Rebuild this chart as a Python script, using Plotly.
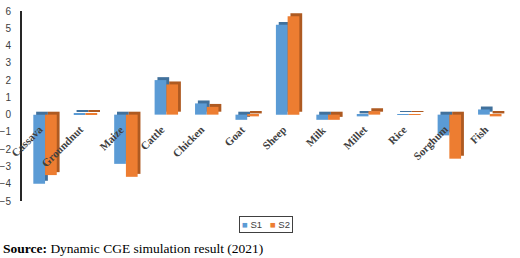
import plotly.graph_objects as go

categories = ["Cassava", "Groundnut", "Maize", "Cattle", "Chicken", "Goat",
              "Sheep", "Milk", "Millet", "Rice", "Sorghum", "Fish"]
s1 = [-4.0, 0.06, -2.85, 2.0, 0.65, -0.3, 5.2, -0.3, -0.1, 0.02, -1.2, 0.3]
s2 = [-3.5, 0.06, -3.6, 1.75, 0.45, -0.1, 5.7, -0.3, 0.2, 0.02, -2.55, -0.1]
y_ticks = [6, 5, 4, 3, 2, 1, 0, -1, -2, -3, -4, -5]
series_names = ["S1", "S2"]

blue, orange = "#5B9BD5", "#ED7D31"
blue_dark, orange_dark = "#41719C", "#AE5A21"
W = 0.29
DX = 0.07      # 3D depth along category axis
DY = 0.17      # 3D depth along value axis

x_idx = list(range(len(categories)))

fig = go.Figure()
# 3D "depth" boxes (darker, shifted up-right)
for vals, off, col in [(s1, -W, blue_dark), (s2, 0.0, orange_dark)]:
    fig.add_trace(go.Bar(
        x=x_idx, y=vals, base=[DY] * len(vals), offset=off + DX, width=W,
        marker=dict(color=col, line=dict(width=0)), showlegend=False,
        hoverinfo="skip"))
for vals, off, col, name in [(s1, -W, blue, series_names[0]), (s2, 0.0, orange, series_names[1])]:
    fig.add_trace(go.Bar(
        x=x_idx, y=vals, offset=off, width=W, name=name, showlegend=False,
        marker=dict(color=col, line=dict(width=0))))

# category labels placed at the zero line
for i, c in enumerate(categories):
    fig.add_annotation(
        x=i, y=0, text="<b>" + c + "</b>", showarrow=False, textangle=-45,
        xanchor="right", yanchor="top", xshift=3, yshift=-6,
        font=dict(family="Liberation Serif", size=11, color="#404040"))

# compact legend
fig.add_annotation(
    xref="paper", yref="paper", x=0.5, y=-0.125, xanchor="center", yanchor="middle",
    text=(f'<span style="color:{blue}">■</span> {series_names[0]}   '
          f'<span style="color:{orange}">■</span> {series_names[1]}'),
    showarrow=False, bordercolor="#404040", borderwidth=1, borderpad=2,
    font=dict(family="Liberation Sans", size=9.5, color="#404040"))

fig.add_annotation(
    xref="paper", yref="paper", x=-0.043, y=-0.25, xanchor="left", yanchor="middle",
    text="<b>Source:</b> Dynamic CGE simulation result (2021)", showarrow=False,
    font=dict(family="Liberation Serif", size=13.5, color="black"))

fig.update_layout(
    width=520, height=258,
    margin=dict(l=22, r=10, t=11, b=57, autoexpand=False),
    paper_bgcolor="white", plot_bgcolor="white",
    barmode="overlay",
    showlegend=False,
    xaxis=dict(range=[-0.57, 11.5], showticklabels=False, showgrid=False,
               zeroline=False, showline=False, fixedrange=True, automargin=False),
    yaxis=dict(range=[-5, 6], tickvals=y_ticks, showgrid=False, zeroline=False,
               showline=True, linecolor="#262626", linewidth=2, ticks="",
               automargin=False, ticklabelstandoff=7,
               tickfont=dict(family="Liberation Sans", size=10, color="#404040")),
)

fig.write_html("out.html")
